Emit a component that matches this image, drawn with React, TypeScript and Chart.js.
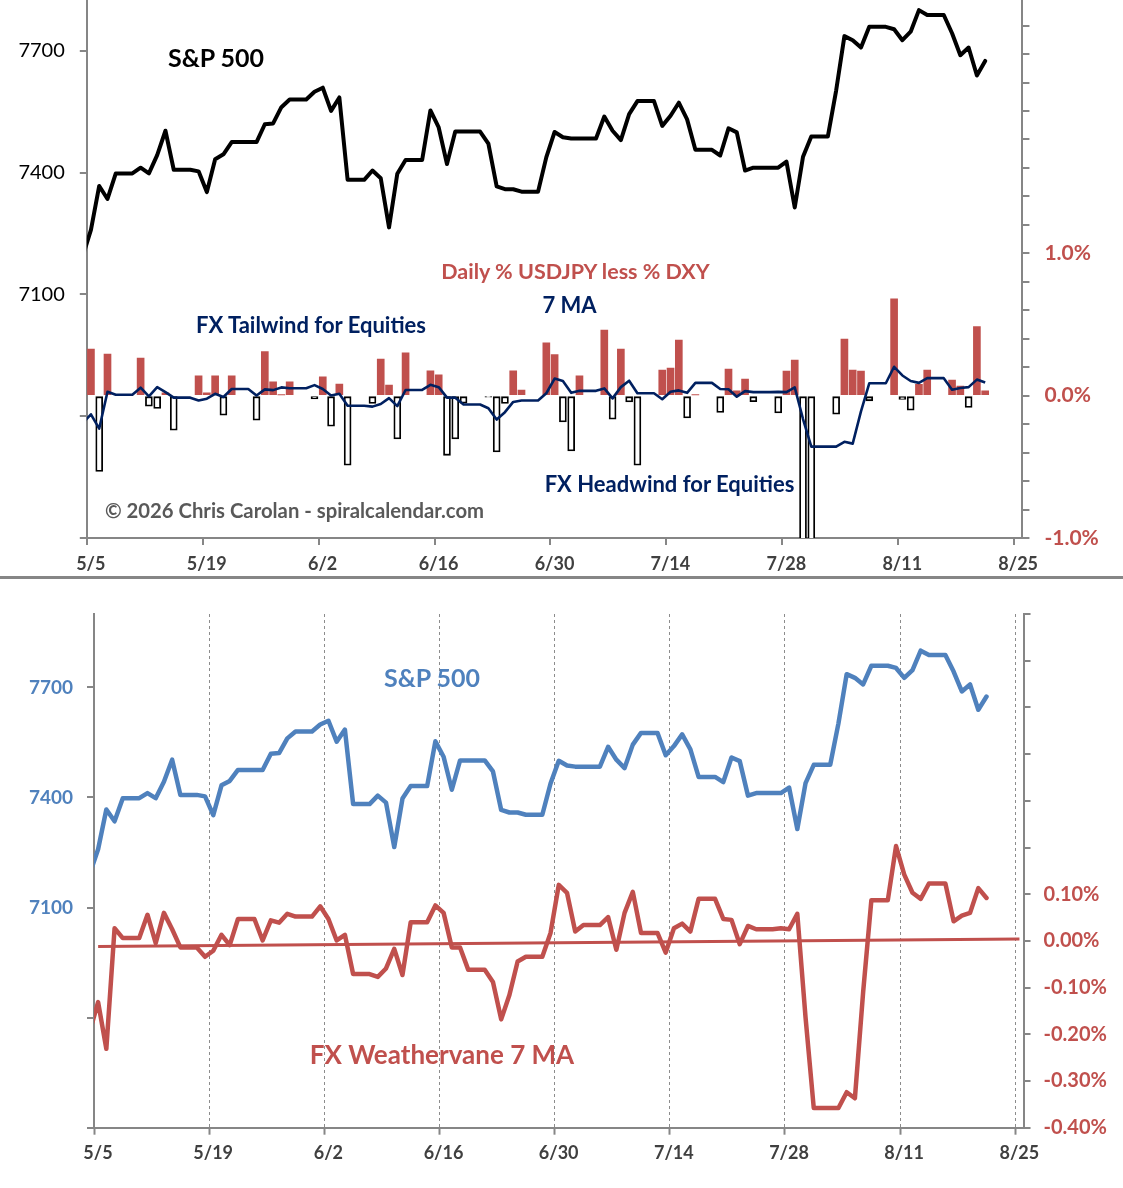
import React, { useEffect, useRef } from "react";
import { Chart, registerables } from "chart.js";

Chart.register(...registerables);

const FONT = "Lato, 'Open Sans', 'DejaVu Sans', sans-serif";
const RED = "#C0504D";
const BLUE = "#4F81BD";
const NAVY = "#002060";
const AXIS = "#868686";
const TICK_TEXT = "#404040";
const GREY_TEXT = "#595959";

// ---------------- data ----------------
const dates = [
  "5/4", "5/5", "5/6", "5/7", "5/8", "5/9", "5/10", "5/11", "5/12", "5/13",
  "5/14", "5/15", "5/16", "5/17", "5/18", "5/19", "5/20", "5/21", "5/22", "5/23",
  "5/24", "5/25", "5/26", "5/27", "5/28", "5/29", "5/30", "5/31", "6/1", "6/2",
  "6/3", "6/4", "6/5", "6/6", "6/7", "6/8", "6/9", "6/10", "6/11", "6/12",
  "6/13", "6/14", "6/15", "6/16", "6/17", "6/18", "6/19", "6/20", "6/21", "6/22",
  "6/23", "6/24", "6/25", "6/26", "6/27", "6/28", "6/29", "6/30", "7/1", "7/2",
  "7/3", "7/4", "7/5", "7/6", "7/7", "7/8", "7/9", "7/10", "7/11", "7/12",
  "7/13", "7/14", "7/15", "7/16", "7/17", "7/18", "7/19", "7/20", "7/21", "7/22",
  "7/23", "7/24", "7/25", "7/26", "7/27", "7/28", "7/29", "7/30", "7/31", "8/1",
  "8/2", "8/3", "8/4", "8/5", "8/6", "8/7", "8/8", "8/9", "8/10", "8/11",
  "8/12", "8/13", "8/14", "8/15", "8/16", "8/17", "8/18", "8/19", "8/20", "8/21",
];

const spx = [
  7193, 7259, 7367, 7335, 7398, 7398, 7398, 7412, 7398, 7443,
  7503, 7407, 7407, 7407, 7403, 7352, 7433, 7445, 7475, 7475,
  7475, 7475, 7519, 7521, 7561, 7580, 7580, 7580, 7599, 7609,
  7552, 7585, 7382, 7382, 7382, 7405, 7386, 7265, 7397, 7431,
  7431, 7431, 7553, 7511, 7421, 7501, 7501, 7501, 7501, 7471,
  7366, 7359, 7359, 7353, 7353, 7353, 7438, 7500, 7487, 7484,
  7484, 7484, 7484, 7538, 7503, 7480, 7544, 7576, 7576, 7576,
  7515, 7540, 7572, 7531, 7456, 7456, 7456, 7442, 7509, 7499,
  7405, 7412, 7412, 7412, 7412, 7427, 7314, 7439, 7489, 7489,
  7489, 7602, 7736, 7726, 7708, 7759, 7759, 7759, 7753, 7726,
  7747, 7800, 7788, 7788, 7788, 7743, 7689, 7708, 7639, 7675,
];

// Daily % USDJPY less % DXY (null = no bar)
const fxDaily = [
  null, 0.327, -0.532, 0.292, null, null, null, 0.264, -0.074, -0.09,
  0.02, -0.243, null, null, 0.14, 0.02, 0.14, -0.137, 0.14, null,
  null, -0.172, 0.309, 0.097, 0.005, 0.097, null, null, -0.022, 0.133,
  -0.215, 0.081, -0.489, null, null, -0.055, 0.257, 0.074, -0.304, 0.301,
  null, null, 0.175, 0.147, -0.419, -0.304, -0.053, null, null, -0.01,
  -0.396, -0.055, 0.175, 0.039, null, null, 0.372, 0.288, -0.184, -0.388,
  0.14, null, null, 0.461, -0.165, 0.327, -0.044, -0.489, null, null,
  0.18, 0.194, 0.391, -0.156, 0.005, null, null, -0.118, 0.187, 0.034,
  0.116, -0.043, null, null, -0.121, 0.172, 0.25, -1.44, -1.4, null,
  null, -0.13, 0.398, 0.18, 0.172, -0.036, null, null, 0.68, -0.027,
  -0.102, 0.079, 0.18, null, null, 0.109, 0.067, -0.083, 0.485, 0.034,
];

// FX Weathervane 7 MA (%)
const fxMA7 = [
  -0.193, -0.131, -0.231, 0.027, 0.006, 0.006, 0.006, 0.056, -0.005, 0.06,
  0.025, -0.014, -0.014, -0.014, -0.034, -0.021, 0.013, -0.009, 0.047, 0.047,
  0.047, 0.001, 0.044, 0.039, 0.058, 0.052, 0.052, 0.052, 0.074, 0.047,
  0.001, 0.013, -0.071, -0.071, -0.071, -0.077, -0.059, -0.017, -0.073, 0.04,
  0.04, 0.04, 0.076, 0.06, -0.014, -0.014, -0.062, -0.062, -0.062, -0.088,
  -0.168, -0.116, -0.044, -0.034, -0.034, -0.034, 0.017, 0.12, 0.103, 0.02,
  0.034, 0.034, 0.034, 0.051, -0.019, 0.06, 0.105, 0.017, 0.017, 0.017,
  -0.025, 0.027, 0.037, 0.02, 0.09, 0.09, 0.09, 0.047, 0.045, -0.007,
  0.032, 0.025, 0.025, 0.025, 0.027, 0.025, 0.058, -0.164, -0.358, -0.358,
  -0.358, -0.358, -0.324, -0.337, -0.11, 0.087, 0.087, 0.087, 0.203, 0.142,
  0.103, 0.09, 0.123, 0.123, 0.123, 0.042, 0.054, 0.06, 0.113, 0.092,
];

// linear trend line of the 7 MA
const trendDates = ["5/5", "8/25"];
const trendValues = [-0.012, 0.004];

const axisDates = ["5/5", "5/19", "6/2", "6/16", "6/30", "7/14", "7/28", "8/11", "8/25"];

const spxTicks = [6500, 6800, 7100, 7400, 7700];
const spxTickLabels = ["", "", "7100", "7400", "7700"];

const topPctTicks = [-1, -0.8, -0.6, -0.4, -0.2, 0, 0.2, 0.4, 0.6, 0.8, 1, 1.2, 1.4, 1.6, 1.8, 2, 2.2, 2.4, 2.6];
const topPctLabels = ["-1.0%", "", "", "", "", "0.0%", "", "", "", "", "1.0%", "", "", "", "", "", "", "", ""];

const botPctTicks = [-0.4, -0.3, -0.2, -0.1, 0, 0.1, 0.2, 0.3, 0.4, 0.5, 0.6, 0.7];
const botPctLabels = ["-0.40%", "-0.30%", "-0.20%", "-0.10%", "0.00%", "0.10%", "", "", "", "", "", ""];

// ---------------- helpers ----------------
const DAY = 86400000;
const ORIGIN = Date.UTC(2026, 4, 5);
function dayOffset(md: string): number {
  const [m, d] = md.split("/").map(Number);
  return Math.round((Date.UTC(2026, m - 1, d) - ORIGIN) / DAY);
}
// each date sits in the middle of its day slot (date axis, between tick marks)
const xOf = (md: string) => dayOffset(md) + 0.5;

const pts = (vals: (number | null)[]) =>
  dates.map((d, i) => ({ x: xOf(d), y: vals[i] })).filter((p) => p.y !== null && p.y !== undefined);

const W = 1123;

function xAxis(height: number, padding: number, dashedGrid: boolean) {
  return {
    type: "linear",
    position: "bottom",
    min: 0,
    max: 113,
    offset: false,
    afterBuildTicks: (a: any) => {
      a.ticks = axisDates.map((d) => ({ value: dayOffset(d) }));
    },
    afterFit: (a: any) => {
      a.height = height;
    },
    ticks: {
      autoSkip: false,
      maxRotation: 0,
      minRotation: 0,
      padding,
      labelOffset: 4,
      color: TICK_TEXT,
      font: { family: FONT, size: 18, weight: "bold" },
      callback: (_v: any, i: number) => axisDates[i],
    },
    grid: dashedGrid
      ? {
          offset: false,
          drawOnChartArea: true,
          drawTicks: true,
          tickLength: 7,
          color: (c: any) => (c.index === 0 ? "rgba(0,0,0,0)" : "#8C8C8C"),
          lineWidth: 1,
          tickColor: AXIS,
          tickWidth: 2,
        }
      : {
          offset: false,
          drawOnChartArea: false,
          drawTicks: true,
          tickLength: 7,
          color: AXIS,
          lineWidth: 2,
        },
    border: { display: true, color: AXIS, width: 2, dash: dashedGrid ? [3, 3] : [] },
  };
}

function yAxis(opts: {
  position: "left" | "right";
  min: number;
  max: number;
  ticks: number[];
  labels: string[];
  width: number;
  color: string;
  size: number;
  bold: boolean;
  padding: number;
}) {
  return {
    type: "linear",
    position: opts.position,
    min: opts.min,
    max: opts.max,
    afterBuildTicks: (a: any) => {
      a.ticks = opts.ticks.map((v) => ({ value: v }));
    },
    afterFit: (a: any) => {
      a.width = opts.width;
    },
    ticks: {
      autoSkip: false,
      padding: opts.padding,
      color: opts.color,
      font: { family: FONT, size: opts.size, weight: opts.bold ? "bold" : "normal" },
      callback: (_v: any, i: number) => opts.labels[i],
    },
    grid: { drawOnChartArea: false, drawTicks: true, tickLength: 7, color: AXIS, lineWidth: 2 },
    border: { display: true, color: AXIS, width: 2 },
  };
}

function Txt(props: { cx: number; cy: number; size: number; color: string; children: React.ReactNode }) {
  const { cx, cy, size, color, children } = props;
  return (
    <div
      style={{
        position: "absolute",
        left: cx,
        top: cy - size * 0.63,
        transform: "translateX(-50%)",
        whiteSpace: "nowrap",
        fontFamily: FONT,
        fontWeight: 700,
        fontSize: size,
        lineHeight: `${size * 1.2}px`,
        color,
      }}
    >
      {children}
    </div>
  );
}

// geometry
const TOP_PAD = 40;
const TOP_CANVAS_H = TOP_PAD + 577; // canvas spans page y -40 .. 577, plot top at page y 0
const TOP_LEFT = 86.8;
const TOP_RIGHT = TOP_LEFT + 113 * 8.28;
const BOT_CANVAS_H = 608; // page y 580 .. 1188
const BOT_LEFT = 94;
const BOT_RIGHT = BOT_LEFT + 113 * 8.226;

export default function App() {
  const topRef = useRef<HTMLCanvasElement>(null);
  const botRef = useRef<HTMLCanvasElement>(null);

  useEffect(() => {
    const top = new Chart(topRef.current as HTMLCanvasElement, {
      type: "line",
      data: {
        datasets: [
          {
            type: "line",
            label: "S&P 500",
            data: pts(spx),
            xAxisID: "x",
            yAxisID: "y",
            borderColor: "#000000",
            borderWidth: 4,
            pointRadius: 0,
            tension: 0,
            borderJoinStyle: "round",
            borderCapStyle: "round",
            clip: 0,
            order: 1,
          } as any,
          {
            type: "line",
            label: "7 MA",
            data: pts(fxMA7),
            xAxisID: "x",
            yAxisID: "y2",
            borderColor: NAVY,
            borderWidth: 2.6,
            pointRadius: 0,
            tension: 0,
            borderJoinStyle: "round",
            clip: 0,
            order: 2,
          } as any,
          {
            type: "bar",
            label: "Daily % USDJPY less % DXY",
            data: pts(fxDaily),
            xAxisID: "x",
            yAxisID: "y2",
            backgroundColor: (c: any) => ((c.raw && c.raw.y < 0) ? "#FFFFFF" : RED),
            borderColor: "#000000",
            borderWidth: (c: any) => ((c.raw && c.raw.y < 0) ? 1.8 : 0),
            borderSkipped: false,
            barThickness: 7,
            clip: 0,
            order: 3,
          } as any,
        ],
      },
      options: {
        responsive: false,
        animation: false,
        events: [],
        layout: { padding: { top: TOP_PAD, left: 0, right: 0, bottom: 0 } },
        plugins: { legend: { display: false }, tooltip: { enabled: false } },
        scales: {
          x: xAxis(TOP_CANVAS_H - (TOP_PAD + 538), 8, false) as any,
          y: yAxis({
            position: "left", min: 6500, max: 7825, ticks: spxTicks, labels: spxTickLabels,
            width: TOP_LEFT, color: "#000000", size: 20, bold: false, padding: 15,
          }) as any,
          y2: yAxis({
            position: "right", min: -1, max: 2.78, ticks: topPctTicks, labels: topPctLabels,
            width: W - TOP_RIGHT, color: RED, size: 21, bold: true, padding: 15,
          }) as any,
        },
      },
    });

    const bot = new Chart(botRef.current as HTMLCanvasElement, {
      type: "line",
      data: {
        datasets: [
          {
            type: "line",
            label: "S&P 500",
            data: pts(spx),
            xAxisID: "x",
            yAxisID: "y",
            borderColor: BLUE,
            borderWidth: 4.5,
            pointRadius: 0,
            tension: 0,
            borderJoinStyle: "round",
            borderCapStyle: "round",
            clip: 0,
            order: 1,
          } as any,
          {
            type: "line",
            label: "FX Weathervane 7 MA",
            data: pts(fxMA7),
            xAxisID: "x",
            yAxisID: "y2",
            borderColor: RED,
            borderWidth: 4.5,
            pointRadius: 0,
            tension: 0,
            borderJoinStyle: "round",
            borderCapStyle: "round",
            clip: 0,
            order: 2,
          } as any,
          {
            type: "line",
            label: "Trend",
            data: trendDates.map((d, i) => ({ x: xOf(d), y: trendValues[i] })),
            xAxisID: "x",
            yAxisID: "y2",
            borderColor: RED,
            borderWidth: 3,
            pointRadius: 0,
            tension: 0,
            clip: 0,
            order: 3,
          } as any,
        ],
      },
      options: {
        responsive: false,
        animation: false,
        events: [],
        layout: { padding: { top: 34, left: 0, right: 0, bottom: 0 } },
        plugins: { legend: { display: false }, tooltip: { enabled: false } },
        scales: {
          x: xAxis(BOT_CANVAS_H - 547.7, 7.5, true) as any,
          y: yAxis({
            position: "left", min: 6500, max: 7900, ticks: spxTicks, labels: spxTickLabels,
            width: BOT_LEFT, color: BLUE, size: 19, bold: true, padding: 14,
          }) as any,
          y2: yAxis({
            position: "right", min: -0.4, max: 0.7, ticks: botPctTicks, labels: botPctLabels,
            width: W - BOT_RIGHT, color: RED, size: 20, bold: true, padding: 13,
          }) as any,
        },
      },
    });

    return () => {
      top.destroy();
      bot.destroy();
    };
  }, []);

  return (
    <div
      style={{
        position: "absolute",
        left: 0,
        top: 0,
        width: W,
        height: 1188,
        background: "#FFFFFF",
        overflow: "hidden",
        fontFamily: FONT,
      }}
    >
      <div style={{ position: "absolute", left: 0, top: 0, width: W, height: 577, overflow: "hidden" }}>
        <canvas
          ref={topRef}
          width={W}
          height={TOP_CANVAS_H}
          style={{ position: "absolute", left: 0, top: -TOP_PAD, width: W, height: TOP_CANVAS_H }}
        />
      </div>
      <div style={{ position: "absolute", left: 0, top: 576, width: W, height: 3, background: AXIS }} />
      <canvas
        ref={botRef}
        width={W}
        height={BOT_CANVAS_H}
        style={{ position: "absolute", left: 0, top: 580, width: W, height: BOT_CANVAS_H }}
      />

      {/* top chart annotations */}
      <Txt cx={216} cy={58} size={25} color="#000000">S&amp;P 500</Txt>
      <Txt cx={575.5} cy={273} size={21.5} color={RED}>Daily % USDJPY less % DXY</Txt>
      <Txt cx={569.5} cy={306} size={22} color={NAVY}>7 MA</Txt>
      <Txt cx={311} cy={326} size={22} color={NAVY}>FX Tailwind for Equities</Txt>
      <Txt cx={669.5} cy={484.5} size={22} color={NAVY}>FX Headwind for Equities</Txt>
      <Txt cx={294.5} cy={510.5} size={20.3} color={GREY_TEXT}>© 2026 Chris Carolan - spiralcalendar.com</Txt>

      {/* bottom chart annotations */}
      <Txt cx={432} cy={678} size={25} color={BLUE}>S&amp;P 500</Txt>
      <Txt cx={442} cy={1055.7} size={26} color={RED}>FX Weathervane 7 MA</Txt>
    </div>
  );
}
